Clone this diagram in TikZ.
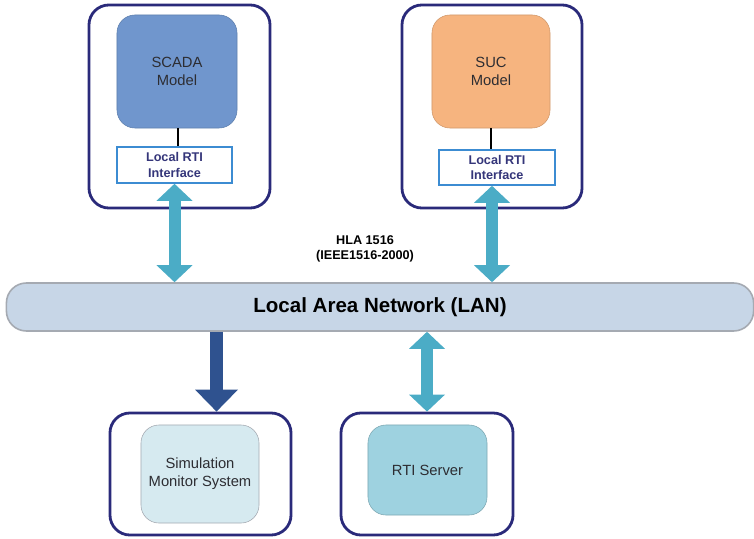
\documentclass[tikz,border=0pt]{standalone}
\usepackage{fontspec}
\setmainfont{Liberation Sans}
\usepackage{xcolor}
\usetikzlibrary{arrows.meta}
\definecolor{framenavy}{RGB}{42,42,122}
\definecolor{scadablue}{RGB}{112,150,205}
\definecolor{sucorange}{RGB}{246,180,127}
\definecolor{monitorcyan}{RGB}{214,234,240}
\definecolor{servercyan}{RGB}{158,210,224}
\definecolor{lanfill}{RGB}{199,214,231}
\definecolor{langray}{RGB}{165,170,178}
\definecolor{linkcyan}{RGB}{75,172,198}
\definecolor{feednavy}{RGB}{47,82,143}
\definecolor{ifaceblue}{RGB}{60,140,210}
\definecolor{ifacetext}{RGB}{53,54,122}
\definecolor{modeltext}{RGB}{45,45,50}
\tikzset{outerbox/.style={draw=framenavy, line width=0.07cm, rounded corners=0.5cm, fill=white}}
\tikzset{modelbox/.style={rounded corners=0.45cm, align=center, text=modeltext, font=\fontsize{10.5}{12.6}\selectfont}}
\tikzset{ifacebox/.style={draw=ifaceblue, line width=0.04cm, fill=white, align=center, text=ifacetext, font=\bfseries\fontsize{9}{10.8}\selectfont}}
\tikzset{lanbar/.style={draw=langray, line width=0.04cm, fill=lanfill, rounded corners=0.5cm, minimum width=18.675cm, minimum height=1.2cm, font=\bfseries\fontsize{14.6}{16}\selectfont}}
\tikzset{linkarrow/.style={draw=linkcyan, line width=0.3cm, {Triangle[width=0.9cm,length=0.425cm,line width=0pt]}-{Triangle[width=0.9cm,length=0.425cm,line width=0pt]}}}
\tikzset{feedarrow/.style={draw=feednavy, line width=0.325cm, -{Triangle[width=1.075cm,length=0.55cm,line width=0pt]}}}
\begin{document}
\begin{tikzpicture}[x=0.025cm,y=-0.025cm]
\useasboundingbox (0,0) rectangle (754,538);
% frames
\node[outerbox, minimum width=4.525cm, minimum height=5.075cm] (scadaframe) at (179.5,106.5) {};
\node[outerbox, minimum width=4.5cm, minimum height=5.075cm] (sucframe) at (492,106.5) {};
\node[outerbox, minimum width=4.525cm, minimum height=3.05cm] (monframe) at (200.5,474) {};
\node[outerbox, minimum width=4.3cm, minimum height=3.05cm] (rtiframe) at (427,474) {};
% models
\node[modelbox, fill=scadablue, draw=scadablue!85!black, minimum width=3cm, minimum height=2.825cm] (scada) at (177,71.5) {SCADA\\Model};
\node[modelbox, fill=sucorange, draw=sucorange!85!black, minimum width=2.95cm, minimum height=2.825cm] (suc) at (491,71.5) {SUC\\Model};
\node[modelbox, fill=monitorcyan, draw=langray, minimum width=2.95cm, minimum height=2.45cm] (monitor) at (200,474) {Simulation\\Monitor System};
\node[modelbox, fill=servercyan, draw=servercyan!80!black, minimum width=2.975cm, minimum height=2.25cm] (server) at (427.5,470) {RTI Server};
% interfaces
\node[ifacebox, minimum width=2.875cm, minimum height=0.9cm] (iface1) at (174.5,165) {Local RTI\\Interface};
\node[ifacebox, minimum width=2.9cm, minimum height=0.875cm] (iface2) at (497,167.5) {Local RTI\\Interface};
% network
\node[lanbar] (lan) at (380,307) {Local Area Network (LAN)};
\node[font=\bfseries\fontsize{9}{11}\selectfont, align=center] (hla) at (365,249) {HLA 1516\\(IEEE1516-2000)};
% links
\coordinate (scadatap) at ([xshift=0.025cm]scada.south);
\coordinate (sucport) at ([xshift=-0.125cm]iface2.south);
\coordinate (montap) at ([xshift=0.4cm]monframe.north);
\draw[line width=0.03cm] (scadatap) -- (scadatap |- iface1.north);
\draw[line width=0.03cm] (suc.south) -- (suc.south |- iface2.north);
\draw[linkarrow] (iface1.south) -- (iface1.south |- lan.north);
\draw[linkarrow] (sucport) -- (sucport |- lan.north);
\draw[feedarrow] (montap |- lan.south) -- (montap);
\draw[linkarrow] (rtiframe.north |- lan.south) -- (rtiframe.north);
\end{tikzpicture}
\end{document}
